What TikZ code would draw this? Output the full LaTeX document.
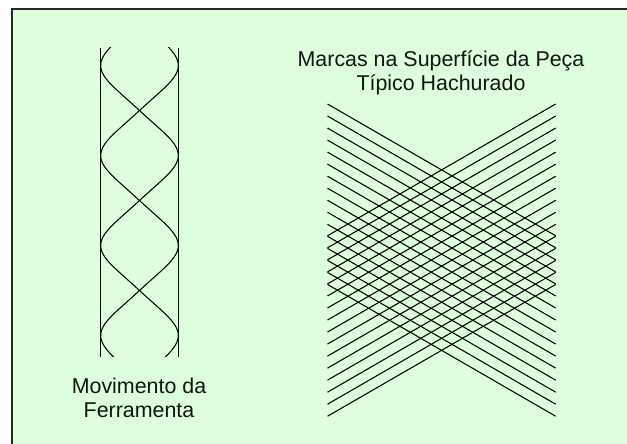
\documentclass[tikz,border=0pt]{standalone}
\usepackage{fontspec}
\setmainfont{Liberation Sans}
\definecolor{panelgreen}{RGB}{221,255,221}
\tikzset{
  x=1pt,y=-1pt,
  ink/.style={black,line width=1.05pt},
  lbl/.style={inner sep=0pt,align=center,font=\fontsize{21.4pt}{24pt}\selectfont,text=black!92}
}
\begin{document}
\begin{tikzpicture}
\useasboundingbox (0,0) rectangle (627,444);
\fill[panelgreen] (12,9) rectangle (627,444);
\draw[black!85,line width=1.4pt] (12,444) -- (12,9) -- (627,9);
% tool motion
\draw[ink] (100.7,48) -- (100.7,356.7);
\draw[ink] (178.3,48) -- (178.3,356.7);
\begin{scope}
\clip (90,48) rectangle (190,356.7);
\draw[ink,domain=40:365,samples=130,smooth] plot ({139.5+38.8*(cos(2*(\x-65.5))+0.05*cos(6*(\x-65.5)))/1.05},\x);
\draw[ink,domain=40:365,samples=130,smooth] plot ({139.5-38.8*(cos(2*(\x-65.5))+0.05*cos(6*(\x-65.5)))/1.05},\x);
\end{scope}
% hatch marks
\foreach \i in {0,...,15}{
  \pgfmathsetmacro{\ya}{104+12.03*\i}
  \pgfmathsetmacro{\yb}{\ya+131.8}
  \draw[ink] (327.5,\ya) -- (555.7,\yb);
  \draw[ink] (555.7,\ya) -- (327.5,\yb);
}
\node[lbl,anchor=base] (tool) at (139,417.7) {Movimento da\\Ferramenta};
\node[lbl,anchor=base] (marks) at (441,90.7) {Marcas na Superfície da Peça\\Típico Hachurado};
\end{tikzpicture}
\end{document}
